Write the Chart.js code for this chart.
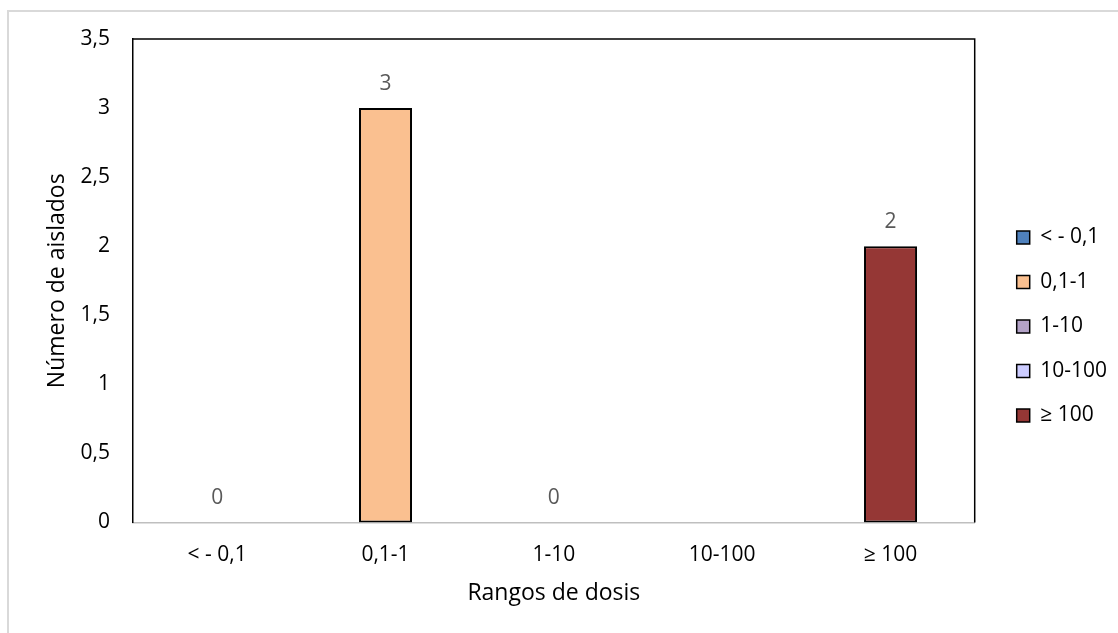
<!DOCTYPE html>
<html>
<head>
<meta charset="utf-8">
<script src="https://cdn.jsdelivr.net/npm/chart.js@4.4.1/dist/chart.umd.min.js"></script>
<style>
  html, body { margin: 0; padding: 0; background: #ffffff; overflow: hidden; }
  canvas { display: block; }
</style>
</head>
<body>
<canvas id="c" width="1118" height="633"></canvas>
<script>
// ---- data ----
const categories = ['< - 0,1', '0,1-1', '1-10', '10-100', '\u2265 100'];
const counts = [0, 3, 0, null, 2];
const yTickLabels = ['0', '0,5', '1', '1,5', '2', '2,5', '3', '3,5'];
const seriesColors = ['#4F81BD', '#FAC090', '#B3A2C7', '#CCCCFF', '#953735'];
const xTitle = 'Rangos de dosis';
const yTitle = 'Número de aislados';

const FONT = '"Open Sans", "Noto Sans", sans-serif';

const datasets = categories.map((cat, i) => ({
  label: cat,
  data: categories.map((_, j) => (j === i ? counts[i] : null)),
  backgroundColor: seriesColors[i],
  borderColor: '#000000',
  borderWidth: (ctx) => (ctx.raw === 0 ? 0 : 2),
  borderSkipped: false,
  categoryPercentage: 0.63,
  barPercentage: 0.5,
  skipNull: true
}));

const framePlugin = {
  id: 'framePlugin',
  beforeDraw(chart) {
    const ctx = chart.ctx;
    ctx.save();
    ctx.strokeStyle = '#D9D9D9';
    ctx.lineWidth = 2;
    ctx.strokeRect(8, 11, 1400, 900);
    ctx.restore();
  },
  afterDatasetsDraw(chart) {
    const ctx = chart.ctx;
    const a = chart.chartArea;
    ctx.save();
    ctx.strokeStyle = '#000000';
    ctx.lineWidth = 1.5;
    ctx.beginPath();
    ctx.moveTo(a.left, a.top);
    ctx.lineTo(a.right, a.top);
    ctx.lineTo(a.right, a.bottom);
    ctx.stroke();
    ctx.restore();
  }
};

const valueLabels = {
  id: 'valueLabels',
  afterDatasetsDraw(chart) {
    const ctx = chart.ctx;
    ctx.save();
    ctx.font = '21px ' + FONT;
    ctx.fillStyle = '#595959';
    ctx.textAlign = 'center';
    ctx.textBaseline = 'middle';
    chart.data.datasets.forEach((ds, di) => {
      const meta = chart.getDatasetMeta(di);
      meta.data.forEach((el, i) => {
        const v = ds.data[i];
        if (v === null || v === undefined) return;
        ctx.fillText(String(v), el.x, el.y - 24);
      });
    });
    ctx.restore();
  }
};

new Chart(document.getElementById('c'), {
  type: 'bar',
  data: { labels: categories, datasets: datasets },
  options: {
    responsive: false,
    animation: false,
    devicePixelRatio: 1,
    layout: { padding: { left: 10, top: 39, right: 1, bottom: 19 } },
    plugins: {
      legend: {
        position: 'right',
        align: 'center',
        labels: {
          boxWidth: 13,
          boxHeight: 13,
          padding: 23.5,
          color: '#000000',
          font: { family: FONT, size: 21 },
          generateLabels: (chart) =>
            Chart.defaults.plugins.legend.labels.generateLabels(chart).map((it) =>
              Object.assign(it, { lineWidth: 1.5, strokeStyle: '#000000' }))
        }
      },
      tooltip: { enabled: false }
    },
    scales: {
      x: {
        grid: { display: false, drawTicks: false },
        border: { display: true, color: '#BFBFBF', width: 1.5 },
        ticks: { color: '#000000', padding: 20, font: { family: FONT, size: 21 } },
        title: { display: true, text: xTitle, color: '#000000', font: { family: FONT, size: 23 }, padding: { top: 0, bottom: 7 } },
        afterFit: (s) => { s.height = 91.5; }
      },
      y: {
        min: 0,
        max: 3.5,
        grid: { display: false, drawTicks: false },
        border: { display: true, color: '#000000', width: 1.5 },
        ticks: {
          stepSize: 0.5,
          color: '#000000',
          padding: 23,
          font: { family: FONT, size: 21 },
          callback: (v, i) => yTickLabels[i]
        },
        title: { display: true, text: yTitle, color: '#000000', font: { family: FONT, size: 23 }, padding: { top: 34, bottom: 0 } },
        afterFit: (s) => { s.width = 123; }
      },
      yRight: {
        type: 'linear',
        position: 'right',
        display: true,
        grid: { display: false, drawTicks: false },
        border: { display: false },
        ticks: { display: false },
        afterFit: (s) => { s.width = 18.5; }
      }
    }
  },
  plugins: [framePlugin, valueLabels]
});
</script>
</body>
</html>
